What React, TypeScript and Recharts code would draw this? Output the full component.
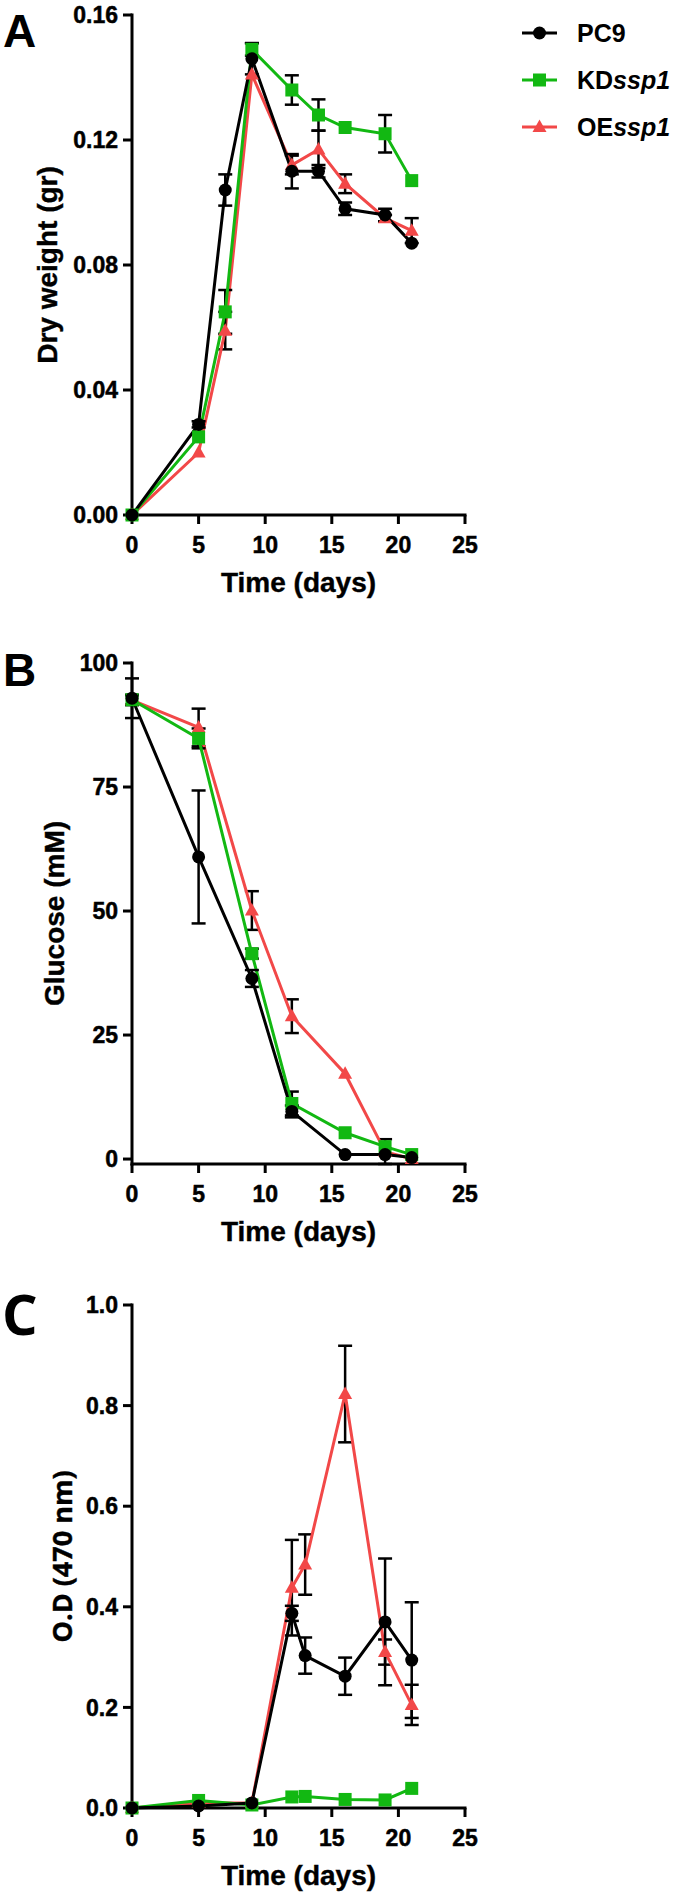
import React from 'react';
import { LineChart, Line, XAxis, YAxis, ErrorBar } from 'recharts';

// ---------- data ----------
const dayTicks = [0, 5, 10, 15, 20, 25];

// Panel A: dry weight (gr)
const daysA = [0, 5, 7, 9, 12, 14, 16, 19, 21];
const pc9A = [0, 0.029, 0.104, 0.146, 0.11, 0.11, 0.098, 0.096, 0.087];
const pc9AErr = [0, 0.001, 0.005, 0.005, 0.0055, 0.002, 0.002, 0.002, 0];
const kdA = [0, 0.025, 0.065, 0.149, 0.136, 0.128, 0.124, 0.122, 0.107];
const kdAErr = [0, 0, 0.007, 0.002, 0.0047, 0.005, 0, 0.006, 0];
const oeA = [0, 0.02, 0.059, 0.141, 0.112, 0.117, 0.106, 0.095, 0.091];
const oeAErr = [0, 0, 0.006, 0, 0.003, 0.006, 0.003, 0.001, 0.004];
const yTicksA = [0, 0.04, 0.08, 0.12, 0.16];

// Panel B: glucose (mM)
const daysB = [0, 5, 9, 12, 16, 19, 21];
const pc9B = [92.9, 60.9, 36.4, 9.6, 0.9, 0.9, 0.3];
const pc9BErr = [4.0, 13.4, 1.7, 1.2, 0, 0, 0];
const kdB = [92.6, 84.8, 41.4, 11.2, 5.3, 2.5, 0.9];
const kdBErr = [1.0, 2.0, 1.0, 2.4, 0, 0, 0];
const oeB = [92.5, 87.0, 50.1, 28.8, 17.2, 1.5, 0];
const oeBErr = [1.0, 3.8, 3.9, 3.4, 0, 2.5, 0];
const yTicksB = [0, 25, 50, 75, 100];

// Panel C: O.D (470 nm)
const daysC = [0, 5, 9, 12, 13, 16, 19, 21];
const pc9C = [0, 0.004, 0.01, 0.387, 0.303, 0.262, 0.37, 0.294];
const pc9CErr = [0, 0, 0, 0.015, 0.036, 0.037, 0.126, 0.115];
const kdC = [0, 0.015, 0.006, 0.022, 0.023, 0.017, 0.016, 0.039];
const kdCErr = [0, 0, 0, 0, 0, 0, 0, 0];
const oeC = [0, 0.01, 0.01, 0.438, 0.484, 0.823, 0.31, 0.205];
const oeCErr = [0, 0, 0, 0.095, 0.06, 0.096, 0.025, 0.04];
const yTicksC = [0, 0.2, 0.4, 0.6, 0.8, 1.0];

const seriesNames = ['PC9', 'KD', 'OE'];
const seriesItalic = ['', 'ssp1', 'ssp1'];

// ---------- styles ----------
const BLACK = '#000000';
const GREEN = '#12b812';
const RED = '#f24848';
const ARIAL = '"Liberation Sans", Arial, sans-serif';
const OPEN = '"Open Sans", "Liberation Sans", sans-serif';

function buildRows(days: number[], a: number[], ae: number[], b: number[], be: number[], c: number[], ce: number[]) {
  return days.map((d, i) => ({
    day: d,
    pc9: a[i], pc9Err: ae[i],
    kd: b[i], kdErr: be[i],
    oe: c[i], oeErr: ce[i],
  }));
}

const rowsA = buildRows(daysA, pc9A, pc9AErr, kdA, kdAErr, oeA, oeAErr);
const rowsB = buildRows(daysB, pc9B, pc9BErr, kdB, kdBErr, oeB, oeBErr);
const rowsC = buildRows(daysC, pc9C, pc9CErr, kdC, kdCErr, oeC, oeCErr);

const circleDot = (p: any) => {
  if (p.cx == null || p.cy == null) return <g key={`c-${p.index}`} />;
  return <circle key={`c-${p.index}`} cx={p.cx} cy={p.cy} r={6.5} fill={BLACK} />;
};
const squareDot = (p: any) => {
  if (p.cx == null || p.cy == null) return <g key={`s-${p.index}`} />;
  return <rect key={`s-${p.index}`} x={p.cx - 6.5} y={p.cy - 6.5} width={13} height={13} fill={GREEN} />;
};
const triDot = (p: any) => {
  if (p.cx == null || p.cy == null) return <g key={`t-${p.index}`} />;
  const { cx, cy } = p;
  return (
    <polygon
      key={`t-${p.index}`}
      points={`${cx},${cy - 7.5} ${cx - 7},${cy + 5} ${cx + 7},${cy + 5}`}
      fill={RED}
    />
  );
};

const tickStyle = { fill: '#000', stroke: '#000', strokeWidth: 0.5, fontSize: 23, fontWeight: 700, fontFamily: ARIAL };
const axisLineStyle = { stroke: '#000', strokeWidth: 3, strokeLinecap: 'square' as const };
const tickLineStyle = { stroke: '#000', strokeWidth: 3 };

type PanelProps = {
  rows: any[];
  top: number;
  marginTop: number;
  plotH: number;
  yDomain: [number, number];
  yTicks: number[];
  yFmt: (v: number) => string;
  yLabel: string;
  yLabelX: number;
  yLabelFont: string;
  yLabelSize: number;
  titleOffset: number;
};

function Panel(props: PanelProps) {
  const { rows, top, marginTop, plotH, yDomain, yTicks, yFmt, yLabel, yLabelX, yLabelFont, yLabelSize, titleOffset } = props;
  const xAxisH = 80;
  const extraBottom = 12;
  return (
    <div style={{ position: 'absolute', left: 0, top }}>
      <LineChart
        width={680}
        height={marginTop + plotH + xAxisH + extraBottom}
        data={rows}
        margin={{ top: marginTop, right: 215, bottom: extraBottom, left: 0 }}
      >
        <XAxis
          dataKey="day"
          type="number"
          domain={[0, 25]}
          ticks={dayTicks}
          height={xAxisH}
          tickSize={9}
          tickMargin={13}
          tick={tickStyle}
          axisLine={axisLineStyle}
          tickLine={tickLineStyle}
          label={{
            value: 'Time (days)',
            position: 'insideBottom',
            offset: titleOffset,
            style: { fill: '#000', stroke: '#000', strokeWidth: 0.4, fontSize: 28, fontWeight: 700, fontFamily: ARIAL },
          }}
        />
        <YAxis
          type="number"
          domain={yDomain}
          ticks={yTicks}
          width={132}
          tickSize={9}
          tickMargin={5}
          tick={tickStyle}
          tickFormatter={yFmt}
          axisLine={axisLineStyle}
          tickLine={tickLineStyle}
          label={{
            value: yLabel,
            angle: -90,
            position: 'insideLeft',
            offset: yLabelX,
            style: { textAnchor: 'middle', fill: '#000', stroke: '#000', strokeWidth: 0.4, fontSize: yLabelSize, fontWeight: 700, fontFamily: yLabelFont },
          }}
        />
        <Line dataKey="oe" stroke={RED} strokeWidth={3} dot={triDot} activeDot={false} isAnimationActive={false}>
          <ErrorBar dataKey="oeErr" direction="y" width={7} strokeWidth={2.5} stroke={BLACK} />
        </Line>
        <Line dataKey="kd" stroke={GREEN} strokeWidth={3} dot={squareDot} activeDot={false} isAnimationActive={false}>
          <ErrorBar dataKey="kdErr" direction="y" width={7} strokeWidth={2.5} stroke={BLACK} />
        </Line>
        <Line dataKey="pc9" stroke={BLACK} strokeWidth={3} dot={circleDot} activeDot={false} isAnimationActive={false}>
          <ErrorBar dataKey="pc9Err" direction="y" width={7} strokeWidth={2.5} stroke={BLACK} />
        </Line>
      </LineChart>
    </div>
  );
}

function LegendBox() {
  const colors = [BLACK, GREEN, RED];
  return (
    <div style={{ position: 'absolute', left: 520, top: 9 }}>
      {seriesNames.map((name, i) => (
        <div key={name} style={{ display: 'flex', alignItems: 'center', height: 47 }}>
          <svg width={57} height={24} style={{ display: 'block' }}>
            <line x1={2} y1={12} x2={37} y2={12} stroke={colors[i]} strokeWidth={3} />
            {i === 0 && <circle cx={19.5} cy={12} r={6.5} fill={BLACK} />}
            {i === 1 && <rect x={13} y={5.5} width={13} height={13} fill={GREEN} />}
            {i === 2 && <polygon points="19.5,4.5 12.5,17 26.5,17" fill={RED} />}
          </svg>
          <span style={{ fontFamily: ARIAL, fontWeight: 700, fontSize: 25, color: '#000', lineHeight: '24px' }}>
            {name}
            {seriesItalic[i] && <span style={{ fontStyle: 'italic' }}>{seriesItalic[i]}</span>}
          </span>
        </div>
      ))}
    </div>
  );
}

export default function App() {
  return (
    <div style={{ position: 'absolute', left: 0, top: 0, width: 680, height: 1896, background: '#fff', overflow: 'hidden' }}>
      <Panel
        rows={rowsA}
        top={0}
        marginTop={15}
        plotH={500}
        yDomain={[0, 0.16]}
        yTicks={yTicksA}
        yFmt={(v) => v.toFixed(2)}
        yLabel="Dry weight (gr)"
        yLabelX={47}
        yLabelFont={ARIAL}
        yLabelSize={28}
        titleOffset={3}
      />
      <Panel
        rows={rowsB}
        top={620}
        marginTop={43}
        plotH={501}
        yDomain={[0, 100]}
        yTicks={yTicksB}
        yFmt={(v) => String(v)}
        yLabel="Glucose (mM)"
        yLabelX={54}
        yLabelFont={ARIAL}
        yLabelSize={28}
        titleOffset={3}
      />
      <Panel
        rows={rowsC}
        top={1244}
        marginTop={61}
        plotH={503}
        yDomain={[0, 1]}
        yTicks={yTicksC}
        yFmt={(v) => v.toFixed(1)}
        yLabel="O.D (470 nm)"
        yLabelX={62}
        yLabelFont={OPEN}
        yLabelSize={27}
        titleOffset={3}
      />
      <LegendBox />
      <svg width={680} height={1896} style={{ position: 'absolute', left: 0, top: 0, pointerEvents: 'none' }}>
        <text x={3} y={47} fontFamily={ARIAL} fontWeight={700} fontSize={46} fill="#000">A</text>
        <text x={3} y={686} fontFamily={ARIAL} fontWeight={700} fontSize={46} fill="#000">B</text>
        <text x={2} y={1335} fontFamily={OPEN} fontWeight={700} fontSize={56} fill="#000">C</text>
      </svg>
    </div>
  );
}
